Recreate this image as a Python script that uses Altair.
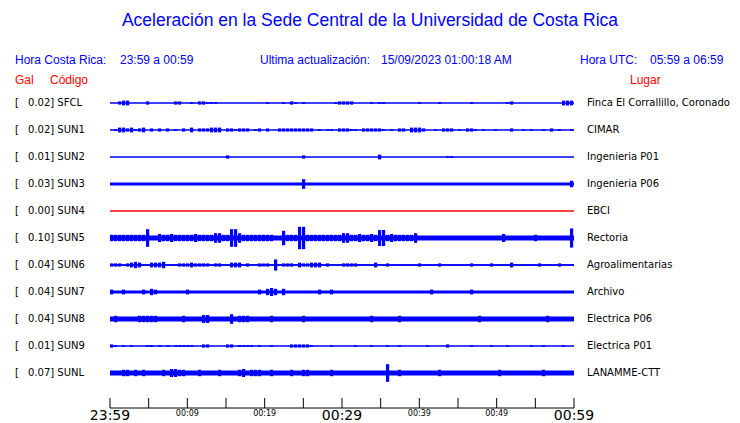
import altair as alt
import pandas as pd

# ---------------- data ----------------
STATIONS = ["SFCL", "SUN1", "SUN2", "SUN3", "SUN4", "SUN5", "SUN6", "SUN7", "SUN8", "SUN9", "SUNL"]
PEAK_GAL = ["0.02", "0.02", "0.01", "0.03", "0.00", "0.10", "0.04", "0.04", "0.04", "0.01", "0.07"]
PLACES = ["Finca El Corrallillo, Coronado", "CIMAR", "Ingenieria P01", "Ingenieria P06", "EBCI",
          "Rectoria", "Agroalimentarias", "Archivo", "Electrica P06", "Electrica P01", "LANAMME-CTT"]
# background amplitude of each trace (relative units)
BASE_AMP = [0, 0, 0, 2, 0, 3, 1, 2, 3, 0, 3]
# bursts: (first bin, last bin, amplitude); 116 bins of ~31 s over the hour
BURSTS = {
    "SFCL": [(2, 2, 2), (3, 4, 3), (9, 9, 2), (16, 17, 2), (20, 20, 1), (22, 23, 2), (24, 25, 1),
             (26, 26, 1), (39, 39, 1), (43, 43, 1), (45, 45, 2), (46, 46, 1), (48, 48, 1), (56, 56, 1),
             (57, 60, 2), (65, 65, 1), (67, 68, 1), (77, 77, 1), (82, 82, 1), (90, 90, 1), (99, 99, 1),
             (100, 100, 2), (113, 115, 3)],
    "SUN1": [(1, 1, 1), (2, 3, 3), (3, 4, 2), (5, 5, 3), (6, 6, 1), (7, 7, 2), (8, 8, 3), (10, 10, 2),
             (12, 12, 2), (14, 14, 2), (16, 16, 1), (18, 18, 2), (20, 20, 3), (22, 22, 2), (23, 23, 2),
             (24, 24, 2), (25, 27, 3), (29, 30, 2), (31, 31, 1), (32, 34, 2), (36, 36, 1), (37, 37, 2),
             (39, 39, 2), (42, 43, 2), (44, 46, 2), (47, 48, 2), (49, 50, 2), (52, 52, 1), (54, 54, 1),
             (55, 55, 1), (57, 59, 2), (60, 61, 1), (63, 64, 2), (65, 67, 2), (68, 68, 1), (70, 70, 1),
             (72, 73, 2), (75, 77, 3), (78, 78, 2), (81, 81, 1), (83, 85, 2), (87, 87, 1), (89, 90, 2),
             (91, 91, 1), (93, 93, 1), (96, 96, 1), (100, 100, 2), (103, 103, 1), (105, 105, 1),
             (108, 108, 1), (110, 110, 2), (112, 112, 1), (115, 115, 1)],
    "SUN2": [(29, 29, 2), (48, 48, 2), (67, 67, 3), (84, 84, 1), (85, 85, 1)],
    "SUN3": [(48, 48, 6), (115, 115, 4)],
    "SUN4": [],
    "SUN5": [(0, 8, 4), (13, 40, 4), (44, 75, 4), (9, 9, 11), (12, 12, 5), (15, 15, 5), (21, 21, 5),
             (26, 27, 6), (30, 31, 11), (32, 32, 6), (43, 43, 9), (47, 48, 14), (58, 59, 6), (62, 62, 5),
             (65, 65, 5), (67, 68, 10), (70, 70, 5), (76, 76, 6), (98, 98, 5), (106, 106, 4),
             (115, 115, 12)],
    "SUN6": [(0, 2, 2), (4, 4, 2), (5, 7, 3), (6, 6, 4), (10, 12, 3), (13, 13, 4), (17, 20, 2),
             (20, 20, 3), (21, 24, 2), (26, 27, 2), (30, 30, 3), (31, 32, 3), (34, 34, 2), (37, 38, 2),
             (39, 39, 2), (41, 41, 7), (43, 43, 2), (44, 45, 2), (47, 47, 3), (47, 52, 2), (50, 52, 3),
             (54, 54, 2), (58, 60, 2), (61, 61, 2), (66, 66, 3), (69, 69, 2), (77, 77, 2), (82, 82, 2),
             (90, 90, 2), (95, 95, 2), (100, 100, 3), (107, 107, 2), (112, 112, 2)],
    "SUN7": [(0, 0, 3), (3, 3, 3), (8, 8, 3), (10, 10, 4), (11, 11, 3), (19, 19, 3), (37, 37, 3),
             (39, 41, 4), (40, 40, 5), (43, 43, 4), (52, 52, 3), (55, 55, 3), (80, 80, 3), (90, 90, 3)],
    "SUN8": [(1, 1, 4), (7, 9, 4), (10, 11, 4), (18, 18, 4), (23, 24, 5), (30, 30, 6), (32, 34, 4),
             (40, 40, 4), (48, 48, 4), (65, 65, 4), (72, 72, 4), (92, 92, 4), (109, 109, 4)],
    "SUN9": [(0, 0, 2), (1, 1, 1), (3, 3, 1), (5, 5, 1), (9, 9, 1), (10, 10, 1), (12, 12, 1),
             (14, 14, 1), (16, 18, 1), (19, 19, 1), (20, 20, 1), (23, 24, 2), (29, 30, 2), (32, 35, 1),
             (37, 37, 1), (40, 40, 1), (45, 49, 2), (50, 50, 1), (55, 55, 1), (61, 61, 1), (65, 65, 1),
             (69, 69, 1), (72, 72, 1), (79, 79, 1), (84, 84, 2), (90, 90, 1), (95, 95, 1), (99, 99, 1),
             (105, 105, 1), (108, 108, 1), (113, 113, 1)],
    "SUNL": [(3, 4, 4), (6, 6, 4), (8, 8, 4), (13, 13, 4), (15, 16, 5), (17, 18, 4), (22, 22, 4),
             (27, 27, 4), (32, 32, 4), (33, 33, 5), (35, 37, 4), (40, 40, 4), (45, 45, 4), (48, 49, 4),
             (55, 55, 4), (69, 69, 11), (72, 72, 4), (82, 82, 4), (97, 97, 4), (108, 108, 4)],
}
N_BINS = 116
TICK_MINUTES = [0, 5, 10, 15, 20, 25, 30, 35, 40, 45, 50, 55, 60]
BIG_LABEL_MIN = [0, 30, 60]
BIG_LABELS = ["23:59", "00:29", "00:59"]
SMALL_LABEL_MIN = [10, 20, 40, 50]
SMALL_LABELS = ["00:09", "00:19", "00:39", "00:49"]

ROW_GAP = 27      # px between traces
AMP_PX = 0.8      # px per amplitude unit
BLUE = "#0000ff"
RED = "#ff0000"
SANS = "Liberation Sans"
DV = "DejaVu Sans"

# ---------------- tables ----------------
bands, spikes, lines = [], [], []
for r, st in enumerate(STATIONS):
    base = BASE_AMP[r]
    amps = [base] * N_BINS
    for a, b, v in BURSTS[st]:
        for i in range(a, b + 1):
            amps[i] = max(amps[i], v)
    col = RED if st == "SUN4" else BLUE
    y0 = r * ROW_GAP
    lines.append({"t0": 0, "t1": 60, "y": y0, "col": col})
    if base > 0:
        bands.append({"t0": 0, "t1": 60, "lo": y0 - base * AMP_PX, "hi": y0 + base * AMP_PX, "col": col})
    for i, v in enumerate(amps):
        if v > base:
            spikes.append({"t0": i * 60 / N_BINS, "t1": (i + 0.8) * 60 / N_BINS,
                           "lo": y0 - v * AMP_PX, "hi": y0 + v * AMP_PX, "col": col})
bands = pd.DataFrame(bands)
spikes = pd.DataFrame(spikes)
lines = pd.DataFrame(lines)
labels = pd.DataFrame({"y": [r * ROW_GAP for r in range(len(STATIONS))],
                       "left": [f"{g}] {s}" for g, s in zip(PEAK_GAL, STATIONS)],
                       "place": PLACES})

xs = alt.Scale(domain=[0, 60], range=[102, 566])
ys = alt.Scale(domain=[0, 270], range=[95, 365])
X = lambda f: alt.X(f, type="quantitative", scale=xs, axis=None)
Y = lambda f: alt.Y(f, type="quantitative", scale=ys, axis=None)
C = alt.Color("col:N", scale=None)

base_lines = alt.Chart(lines).mark_rule(strokeWidth=1.6).encode(x=X("t0"), x2="t1", y=Y("y"), color=C)
band_marks = alt.Chart(bands).mark_rect(strokeWidth=0).encode(
    x=X("t0"), x2="t1", y=Y("lo"), y2="hi", color=C)
spike_marks = alt.Chart(spikes).mark_rect(strokeWidth=0).encode(
    x=X("t0"), x2="t1", y=Y("lo"), y2="hi", color=C)

lab_bracket = alt.Chart(labels).mark_text(align="left", baseline="middle", font=DV, fontSize=10,
                                          color="black").encode(
    x=alt.value(7), y=Y("y"), text=alt.value("["))
lab_left = alt.Chart(labels).mark_text(align="left", baseline="middle", font=DV, fontSize=10,
                                       color="black").encode(
    x=alt.value(20), y=Y("y"), text="left:N")
lab_right = alt.Chart(labels).mark_text(align="left", baseline="middle", font=DV, fontSize=10,
                                        color="black").encode(
    x=alt.value(579), y=Y("y"), text="place:N")

axis_df = pd.DataFrame({"t0": [0], "t1": [60]})
axis_line = alt.Chart(axis_df).mark_rule(color="black", strokeWidth=1).encode(
    x=X("t0"), x2="t1", y=alt.value(400))
ticks = alt.Chart(pd.DataFrame({"t": TICK_MINUTES})).mark_rule(color="black", strokeWidth=1).encode(
    x=X("t"), y=alt.value(390), y2=alt.value(400))
big = alt.Chart(pd.DataFrame({"t": BIG_LABEL_MIN, "s": BIG_LABELS})).mark_text(
    font=DV, fontSize=14, color="black", baseline="middle").encode(
    x=X("t"), y=alt.value(408), text="s:N")
small = alt.Chart(pd.DataFrame({"t": SMALL_LABEL_MIN, "s": SMALL_LABELS})).mark_text(
    font=DV, fontSize=8, color="black", baseline="middle").encode(
    x=X("t"), y=alt.value(406), text="s:N")


def txt(s, x, y, size=12, color=BLUE, align="left", font=SANS):
    return alt.Chart(pd.DataFrame({"s": [s]})).mark_text(
        align=align, baseline="middle", font=font, fontSize=size, color=color).encode(
        x=alt.value(x), y=alt.value(y), text="s:N")


header = [
    txt("Aceleración en la Sede Central de la Universidad de Costa Rica", 362, 13, size=17.5, align="center"),
    txt("Hora Costa Rica:", 7, 52),
    txt("23:59 a 00:59", 112, 52),
    txt("Ultima actualización:", 252, 52),
    txt("15/09/2023 01:00:18 AM", 373, 52),
    txt("Hora UTC:", 572, 52),
    txt("05:59 a 06:59", 642, 52),
    txt("Gal", 7, 72, color=RED),
    txt("Código", 42, 72, color=RED),
    txt("Lugar", 622, 72, color=RED),
]

chart = alt.layer(base_lines, band_marks, spike_marks, lab_bracket, lab_left, lab_right,
                  axis_line, ticks, big, small, *header).properties(
    width=724, height=415, padding=0, autosize="none"
).configure_view(stroke=None)

chart.save("out.html", embed_options={"renderer": "svg", "actions": False})
